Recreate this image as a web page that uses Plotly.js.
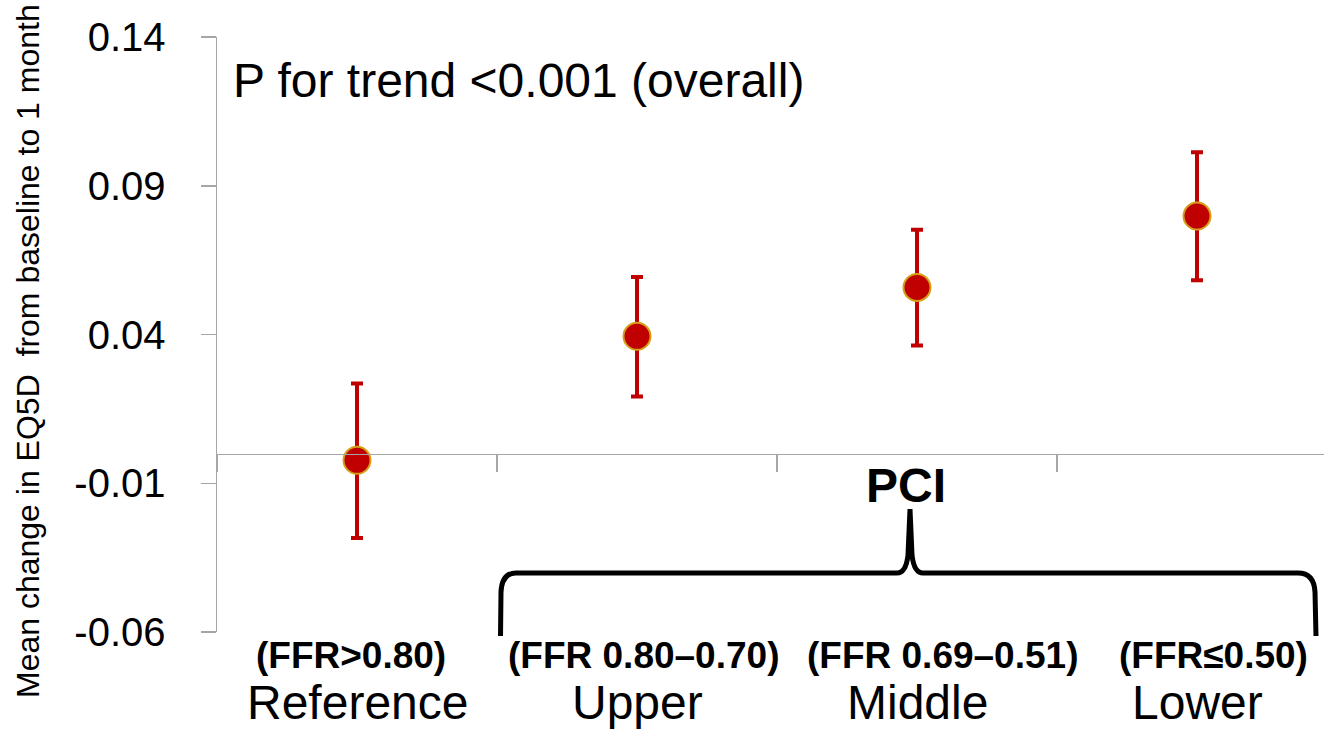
<!DOCTYPE html>
<html>
<head>
<meta charset="utf-8">
<script src="https://cdn.plot.ly/plotly-3.0.1.min.js"></script>
<style>html,body{margin:0;padding:0;background:#fff;}#chart{width:1324px;height:729px;}</style>
</head>
<body>
<div id="chart"></div>
<script>
const categories = ['Reference', 'Upper', 'Middle', 'Lower'];
const ffrLabels = ['(FFR>0.80)', '(FFR 0.80\u20130.70)', '(FFR 0.69\u20130.51)', '(FFR\u22640.50)'];
const meanChange = [-0.0023, 0.0394, 0.0558, 0.0798];
const ciLower = [-0.0284, 0.0192, 0.0363, 0.0582];
const ciUpper = [0.0235, 0.0593, 0.0752, 0.1013];
const yTicks = [-0.06, -0.01, 0.04, 0.09, 0.14];
const yTickText = ['-0.06', '-0.01', '0.04', '0.09', '0.14'];

const FONT = 'Liberation Sans, Arial, Helvetica, sans-serif';
const ffrShift = [-6, 6, 25, 16];

const trace = {
  type: 'scatter',
  mode: 'markers',
  x: categories,
  y: meanChange,
  marker: {size: 27, color: '#C00000', line: {color: '#D4A017', width: 2}},
  error_y: {
    type: 'data', symmetric: false,
    array: ciUpper.map((u, i) => u - meanChange[i]),
    arrayminus: ciLower.map((l, i) => meanChange[i] - l),
    color: '#C00000', thickness: 4, width: 6
  },
  hoverinfo: 'x+y',
  showlegend: false
};

// plot area pixel geometry helpers (for decorative brace / text placement in paper coords)
const L = 217, T = 37, PW = 1107, PH = 595;
const px = v => (v - L) / PW;
const py = v => (T + PH - v) / PH;

function bracePath() {
  const P = (x, y) => px(x).toFixed(5) + ',' + py(y).toFixed(5);
  return 'M' + P(500.5, 636) +
    ' L' + P(501, 592) +
    ' Q' + P(502, 573) + ' ' + P(516, 573) +
    ' L' + P(897, 573) +
    ' Q' + P(906, 573) + ' ' + P(908, 555) +
    ' L' + P(910, 509) +
    ' L' + P(912, 555) +
    ' Q' + P(914, 573) + ' ' + P(923, 573) +
    ' L' + P(1298, 573) +
    ' Q' + P(1314, 573) + ' ' + P(1315, 592) +
    ' L' + P(1316, 636);
}

const annotations = [];
categories.forEach((c, i) => {
  annotations.push({
    xref: 'x', yref: 'paper', x: c, y: py(655), xanchor: 'center', yanchor: 'middle',
    text: '<b>' + ffrLabels[i] + '</b>', showarrow: false, xshift: ffrShift[i],
    font: {family: FONT, size: 37, color: '#000'}
  });
  annotations.push({
    xref: 'x', yref: 'paper', x: c, y: py(702), xanchor: 'center', yanchor: 'middle',
    text: c, showarrow: false,
    font: {family: FONT, size: 48, color: '#000'}
  });
});
annotations.push({
  xref: 'paper', yref: 'paper', x: px(231), y: py(81), xanchor: 'left', yanchor: 'middle',
  text: 'P for trend <0.001 (overall)', showarrow: false,
  font: {family: FONT, size: 48, color: '#000'}
});
annotations.push({
  xref: 'paper', yref: 'paper', x: px(906), y: py(485), xanchor: 'center', yanchor: 'middle',
  text: '<b>PCI</b>', showarrow: false,
  font: {family: FONT, size: 48, color: '#000'}
});
annotations.push({
  xref: 'paper', yref: 'paper', x: px(28), y: py(351), xanchor: 'center', yanchor: 'middle',
  text: 'Mean change in EQ5D  from baseline to 1 month', showarrow: false, textangle: -90,
  font: {family: FONT, size: 32, color: '#000'}
});

const layout = {
  width: 1324, height: 729,
  margin: {l: L, r: 0, t: T, b: 729 - T - PH, pad: 0},
  paper_bgcolor: '#fff', plot_bgcolor: '#fff',
  font: {family: FONT, color: '#000'},
  xaxis: {
    type: 'category', categoryorder: 'array', categoryarray: categories,
    range: [-0.5, -0.5 + PW / 280],
    anchor: 'free', position: 0.3,
    showline: true, linecolor: '#A6A6A6', linewidth: 1.5,
    ticks: 'outside', tickson: 'boundaries', ticklen: 17, tickcolor: '#A6A6A6', tickwidth: 1.5,
    showticklabels: false, showgrid: false, zeroline: false
  },
  yaxis: {
    range: [-0.06, 0.14], tickvals: yTicks, ticktext: yTickText,
    showline: true, linecolor: '#A6A6A6', linewidth: 1.5,
    ticks: 'outside', ticklen: 15, tickcolor: '#A6A6A6', tickwidth: 1.5,
    ticklabelstandoff: 27,
    tickfont: {family: FONT, size: 40, color: '#000'},
    showgrid: false, zeroline: false
  },
  shapes: [{
    type: 'path', xref: 'paper', yref: 'paper', path: bracePath(),
    line: {color: '#000', width: 5}
  }],
  annotations: annotations
};

Plotly.newPlot('chart', [trace], layout, {displayModeBar: false, staticPlot: true});
</script>
</body>
</html>
